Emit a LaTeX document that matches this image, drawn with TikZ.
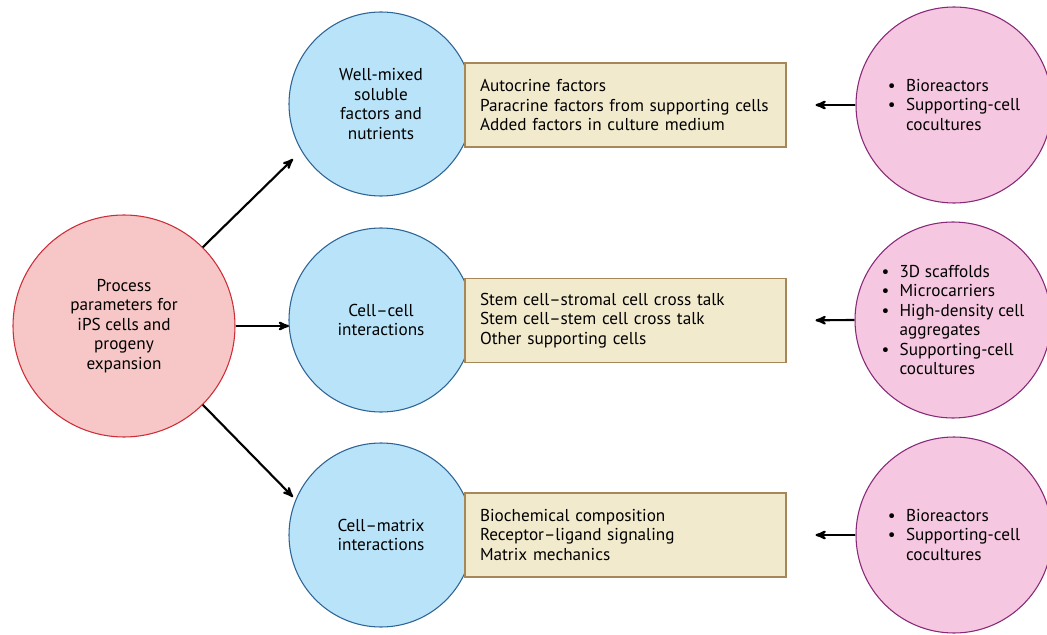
\documentclass[tikz,border=0pt]{standalone}
\usepackage{fontspec}
\setmainfont{PT Sans}
\usetikzlibrary{shapes,arrows,positioning,calc}

\definecolor{redfill}{RGB}{247,199,199}
\definecolor{redline}{RGB}{205,45,55}
\definecolor{bluefill}{RGB}{185,227,248}
\definecolor{blueline}{RGB}{45,100,150}
\definecolor{boxfill}{RGB}{242,234,205}
\definecolor{boxline}{RGB}{165,135,90}
\definecolor{pinkfill}{RGB}{246,199,224}
\definecolor{pinkline}{RGB}{135,40,120}

\newcommand{\itm}{\makebox[1.05em][l]{\textbullet}}
\newcommand{\cnt}{\hspace*{1.05em}}

\begin{document}
\begin{tikzpicture}[x=0.75pt, y=-0.75pt]
\tikzstyle{src} = [draw=redline, fill=redfill, circle, line width=0.8pt, minimum size=166.5pt, align=center, font=\fontsize{12.9}{14.6}\selectfont]
\tikzstyle{param} = [draw=blueline, fill=bluefill, circle, line width=0.8pt, minimum size=138pt, align=center, font=\fontsize{12.9}{14.6}\selectfont]
\tikzstyle{detail} = [draw=boxline, fill=boxfill, rectangle, line width=0.8pt, text width=218.25pt, inner xsep=11.25pt, minimum height=63pt, align=left, font=\fontsize{12.9}{14.6}\selectfont]
\tikzstyle{means} = [draw=pinkline, fill=pinkfill, circle, line width=0.8pt, minimum size=147pt, align=left, font=\fontsize{12.9}{14.6}\selectfont]
\tikzstyle{arr} = [->, >=stealth', line width=1.6pt]

\useasboundingbox (0,0) rectangle (1047,635);

\node[src] (process) at (124,326) {Process\\parameters for\\iPS cells and\\progeny\\expansion};

\node[param] (soluble) at (381,104) {Well-mixed\\soluble\\factors and\\nutrients};
\node[param] (cellcell) at (381,320) {Cell–cell\\interactions};
\node[param] (cellmatrix) at (381,535) {Cell–matrix\\interactions};

\node[detail] (solublebox) at (625.5,105) {Autocrine factors\\Paracrine factors from supporting cells\\Added factors in culture medium};
\node[detail] (cellcellbox) at (625.5,320.5) {Stem cell–stromal cell cross talk\\Stem cell–stem cell cross talk\\Other supporting cells};
\node[detail] (cellmatrixbox) at (625.5,535) {Biochemical composition\\Receptor–ligand signaling\\Matrix mechanics};

\node[means] (solublemeans) at (954,105) {\itm Bioreactors\\\itm Supporting-cell\\\cnt cocultures};
\node[means] (cellcellmeans) at (953,320) {\itm 3D scaffolds\\\itm Microcarriers\\\itm High-density cell\\\cnt aggregates\\\itm Supporting-cell\\\cnt cocultures};
\node[means] (cellmatrixmeans) at (954,535) {\itm Bioreactors\\\itm Supporting-cell\\\cnt cocultures};

\coordinate (tipsoluble) at (293,159);
\coordinate (tipcellcell) at (289,326);
\coordinate (tipcellmatrix) at (293,497);

\draw[arr] (process.45) -- (tipsoluble);
\draw[arr] (process.east) -- (tipcellcell);
\draw[arr] (process.-45) -- (tipcellmatrix);

\draw[arr, shorten >=21.75pt] (solublemeans.west) -- (solublebox.east);
\draw[arr, shorten >=21.75pt] (cellcellmeans.west) -- (cellcellbox.east);
\draw[arr, shorten >=21.75pt] (cellmatrixmeans.west) -- (cellmatrixbox.east);
\end{tikzpicture}
\end{document}
